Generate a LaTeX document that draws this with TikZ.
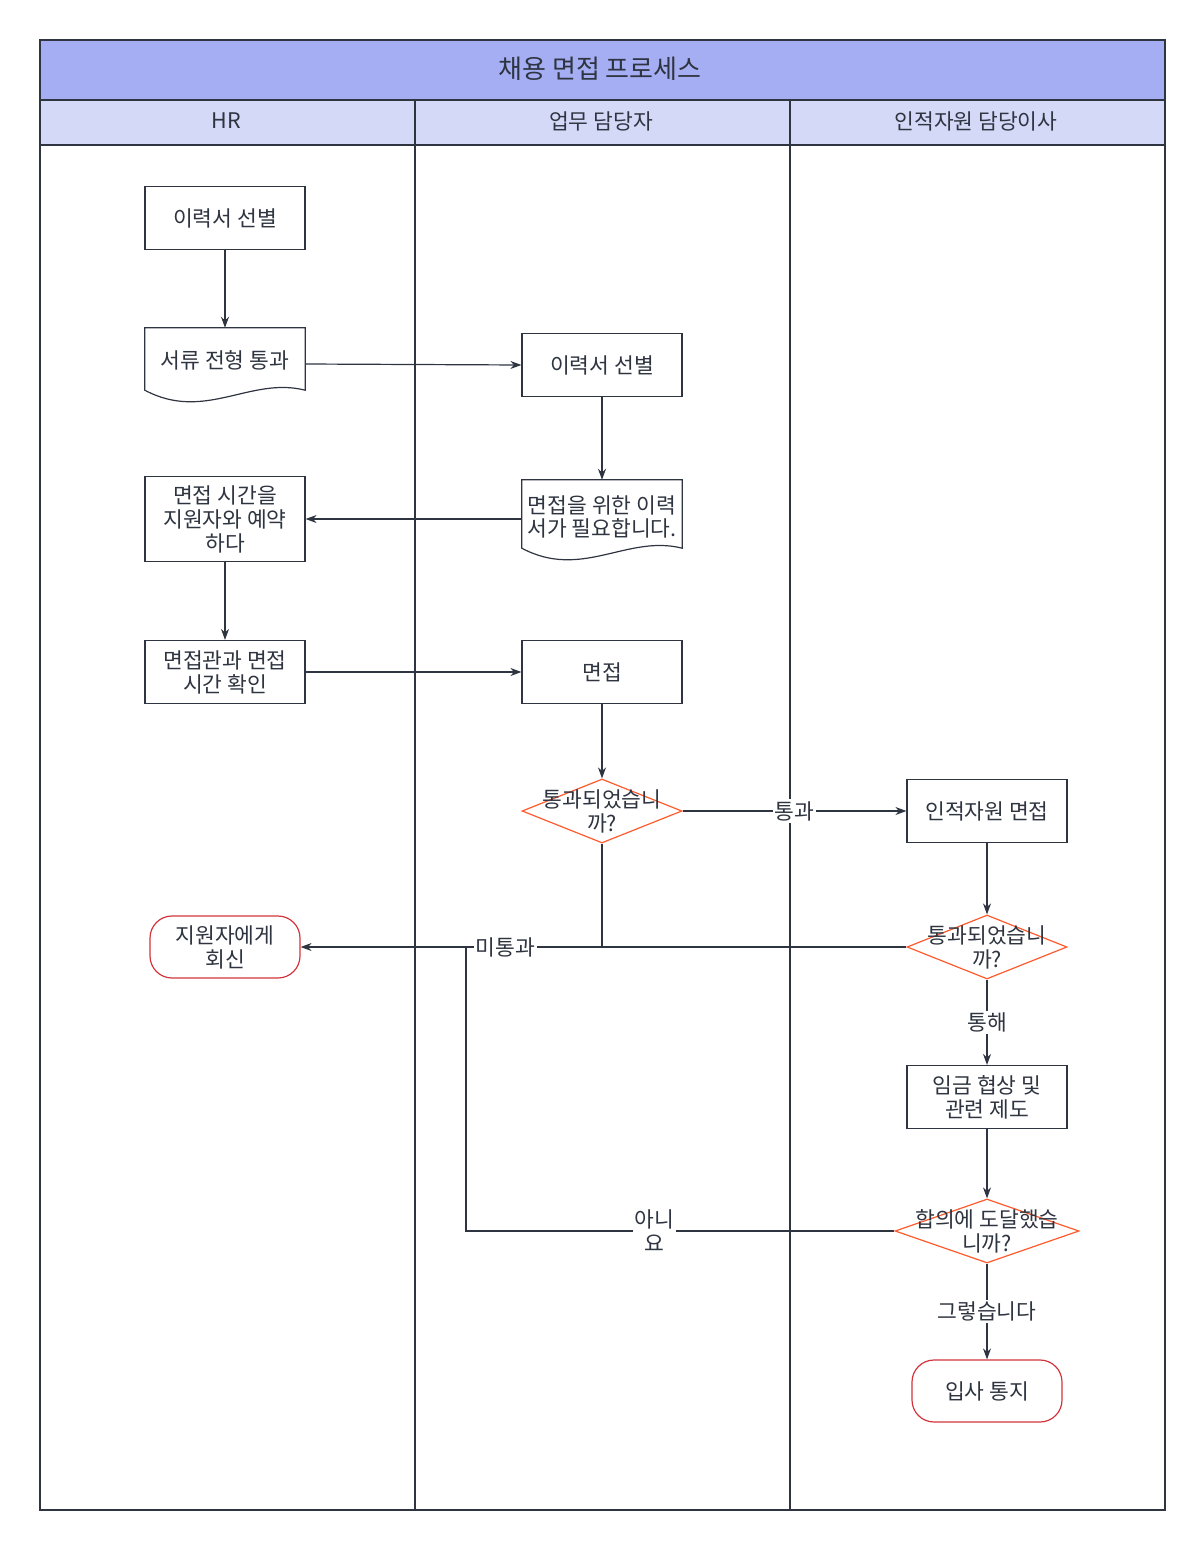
\documentclass[tikz,border=0pt]{standalone}
\usepackage{fontspec}
\setmainfont{Noto Sans CJK KR}
\usetikzlibrary{shapes.geometric,arrows.meta,positioning}
\definecolor{titlebg}{HTML}{A5AEF3}
\definecolor{headbg}{HTML}{D5D9F8}
\definecolor{frame}{HTML}{2E3440}
\definecolor{decide}{HTML}{FF5A2C}
\definecolor{stopred}{HTML}{D3343C}
\tikzstyle{task} = [draw=frame,line width=1.2,rectangle,minimum width=160,minimum height=63,align=center,inner sep=0]
\tikzstyle{doc} = [rectangle,minimum width=160,align=center,inner sep=0]
\tikzstyle{decision} = [draw=decide,line width=1.2,diamond,inner sep=0,minimum width=160,minimum height=64]
\tikzstyle{term} = [draw=stopred,line width=1.2,rounded corners=22,minimum width=150,minimum height=62,align=center,inner sep=0]
\tikzstyle{flow} = [-{Stealth[length=11,width=8]},line width=1.2,draw=frame]
\tikzstyle{tag} = [fill=white,inner sep=2]
\def\docwave#1{\draw[frame,line width=1.2] (#1.north west) -- (#1.north east) -- ([yshift=10]#1.south east)
  .. controls ([xshift=-55,yshift=24]#1.south east) and ([xshift=60,yshift=-22]#1.south west) .. ([yshift=10]#1.south west) -- cycle;}

\begin{document}
\begin{tikzpicture}[x=1pt,y=-1pt,font=\fontsize{21.5}{24}\selectfont,text=frame]
      \useasboundingbox (0,0) rectangle (1200,1546);
      % lanes
      \draw[frame,line width=1.2,fill=titlebg] (40,40) rectangle (1165,100);
      \draw[frame,line width=1.2,fill=headbg] (40,100) rectangle (1165,145);
      \draw[frame,line width=1.2] (40,145) rectangle (1165,1510);
      \draw[frame,line width=1.2] (415,100) -- (415,1510);
      \draw[frame,line width=1.2] (790,100) -- (790,1510);
      \node (title) at (600,69) {\fontsize{26}{28}\selectfont 채용 면접 프로세스};
      \node (hr) at (226,121) {HR};
      \node (biz) at (601,121) {업무 담당자};
      \node (dir) at (976,121) {인적자원 담당이사};
      % nodes
      \node[task] (a1) at (225,218) {이력서 선별};
      \node[doc,minimum height=72] (a2) at (225,364) {\raisebox{8pt}{서류 전형 통과}};
      \node[task] (b1) at (602,365) {이력서 선별};
      \node[doc,minimum height=78] (b2) at (602,519) {\raisebox{6pt}{\shortstack{면접을 위한 이력\\서가 필요합니다.}}};
      \node[task,minimum height=85] (a3) at (225,519) {면접 시간을\\지원자와 예약\\하다};
      \node[task] (a4) at (225,672) {면접관과 면접\\시간 확인};
      \node[task] (b3) at (602,672) {면접};
      \node[decision] (b4) at (602,811) {};
      \node[align=center] (b4t) at (b4) {통과되었습니\\까?};
      \node[task] (c1) at (987,811) {인적자원 면접};
      \node[decision] (c2) at (987,947) {};
      \node[align=center] (c2t) at (c2) {통과되었습니\\까?};
      \node[term] (a5) at (225,947) {지원자에게\\회신};
      \node[task] (c3) at (987,1097) {임금 협상 및\\관련 제도};
      \node[decision,minimum width=184] (c4) at (987,1231) {};
      \node[align=center] (c4t) at (c4) {합의에 도달했습\\니까?};
      \node[term] (c5) at (987,1391) {입사 통지};
      \docwave{a2}
      \docwave{b2}
      \coordinate (back) at (466,947);
      % connectors
      \draw[flow] (a1) -- (a2);
      \draw[flow] (a2.east) -- (b1.west);
      \draw[flow] (b1) -- (b2);
      \draw[flow] (b2.west) -- (a3.east);
      \draw[flow] (a3) -- (a4);
      \draw[flow] (a4.east) -- (b3.west);
      \draw[flow] (b3) -- (b4);
      \draw[flow] (b4.east) -- node[tag] {통과} (c1.west);
      \draw[flow] (c1) -- (c2);
      \draw[flow] (c2) -- node[tag] {통해} (c3);
      \draw[flow] (c3) -- (c4);
      \draw[flow] (c4) -- node[tag] {그렇습니다} (c5);
      \draw[flow] (b4.south) |- node[tag,pos=0.66] {미통과} (a5.east);
      \draw[line width=1.2,frame] (c2.west) -- (b4.south |- c2.west);
      \draw[line width=1.2,frame] (c4.west) -- node[tag,align=center,pos=0.56] {아니\\요} (back |- c4.west) -- (back);
\end{tikzpicture}
\end{document}
